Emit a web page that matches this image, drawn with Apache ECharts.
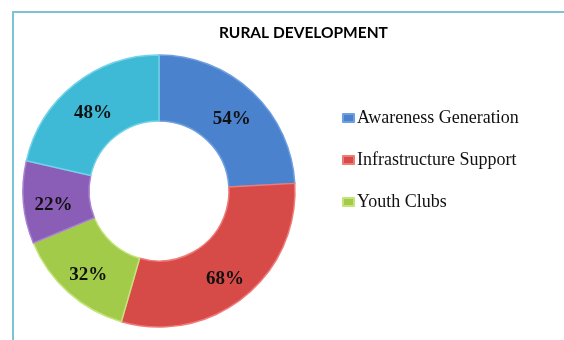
<!DOCTYPE html>
<html>
<head>
<meta charset="utf-8">
<script src="https://cdn.jsdelivr.net/npm/echarts@6/dist/echarts.min.js"></script>
<style>
html,body{margin:0;padding:0;background:#fff;}
#chart{width:564px;height:340px;}
</style>
</head>
<body>
<div id="chart"></div>
<script>
var categories = ['Awareness Generation', 'Infrastructure Support', 'Youth Clubs', 'Category 4', 'Category 5'];
var values = [54, 68, 32, 22, 48];
var legendItems = ['Awareness Generation', 'Infrastructure Support', 'Youth Clubs'];
var colors = ['#4a82ce', '#d64a48', '#a3cb4a', '#8a5db6', '#3fbad6'];
var edgeColors = ['#6f9fe0', '#f07a78', '#c4e47a', '#a882d0', '#72d2e8'];

var chart = echarts.init(document.getElementById('chart'), null, {renderer: 'canvas'});
var data = categories.map(function (c, i) {
  return {
    name: c,
    value: values[i],
    itemStyle: {
      color: colors[i],
      borderColor: edgeColors[i],
      borderWidth: 1.5
    }
  };
});
chart.setOption({
  animation: false,
  color: colors,
  title: {
    text: 'RURAL DEVELOPMENT',
    left: 214,
    top: 20,
    textStyle: {fontFamily: 'Lato', fontWeight: 'bold', fontSize: 15.5, color: '#000'}
  },
  legend: {
    data: legendItems,
    orient: 'vertical',
    left: 337,
    top: 104,
    itemGap: 24,
    itemWidth: 11,
    itemHeight: 8,
    icon: 'rect',
    textStyle: {fontFamily: 'Liberation Serif', fontSize: 18, color: '#111', padding: [0, 0, 0, -2]}
  },
  graphic: [
    {type: 'line', shape: {x1: 13, y1: 12, x2: 564, y2: 12}, style: {stroke: '#7cc3d3', lineWidth: 2}},
    {type: 'line', shape: {x1: 13, y1: 11, x2: 13, y2: 340}, style: {stroke: '#7cc3d3', lineWidth: 2}}
  ],
  series: [{
    type: 'pie',
    center: [159, 191],
    radius: [70, 136],
    startAngle: 90,
    clockwise: true,
    label: {
      show: true,
      position: 'inside',
      formatter: '{c}%',
      offset: [0, 5],
      fontFamily: 'Liberation Serif',
      fontWeight: 'bold',
      fontSize: 19,
      color: '#111'
    },
    labelLine: {show: false},
    emphasis: {disabled: true},
    data: data
  }]
});
</script>
</body>
</html>
